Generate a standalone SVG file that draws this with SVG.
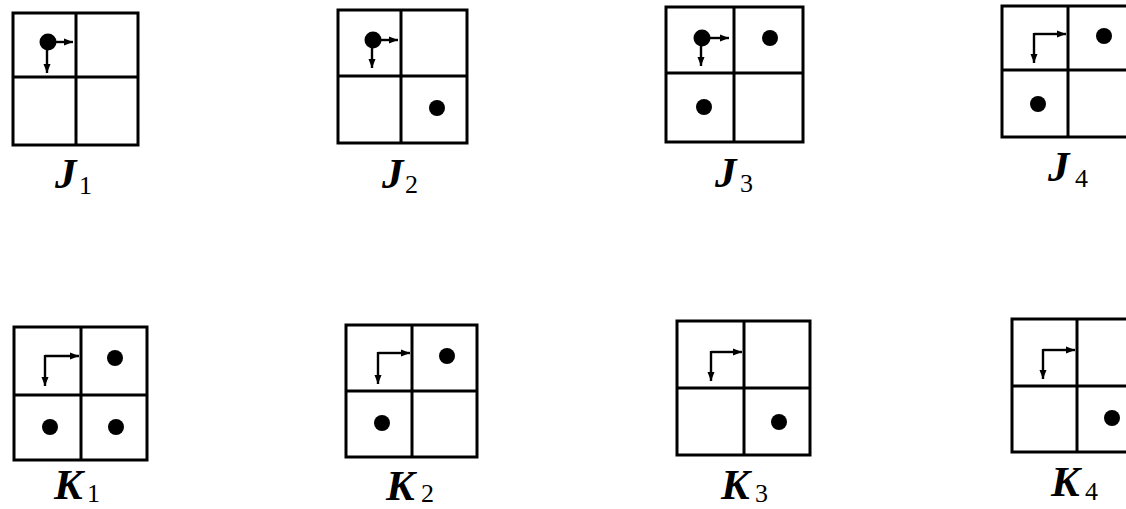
<svg xmlns="http://www.w3.org/2000/svg" width="1126" height="509" viewBox="0 0 1126 509">
<style>
.box{fill:none;stroke:#000;stroke-width:3}
.div{fill:none;stroke:#000;stroke-width:3}
.arr{fill:none;stroke:#000;stroke-width:2.4;marker-end:url(#ah)}
.dot{fill:#000}
.lab{font-family:"Liberation Serif","Times New Roman",serif;font-weight:bold;font-style:italic;font-size:43px;fill:#000}
.sub{font-style:normal;font-weight:normal;font-size:26px}
</style>
<defs>
<marker id="ah" markerUnits="userSpaceOnUse" markerWidth="10" markerHeight="10" refX="9" refY="5" orient="auto">
<path d="M0,1.5 L9,5 L0,8.5 Z" fill="#000"/>
</marker>
</defs>
<rect width="1126" height="509" fill="#fff"/>
<g id="J1">
<rect class="box" x="13" y="13" width="125" height="132"/>
<line class="div" x1="76" y1="13" x2="76" y2="145"/>
<line class="div" x1="13" y1="77" x2="138" y2="77"/>
<circle class="dot" cx="48" cy="42" r="8.5"/>
<text class="lab" x="55" y="188">J<tspan class="sub" x="79" y="194">1</tspan></text>
</g>
<g id="J2">
<rect class="box" x="338" y="10" width="129" height="133"/>
<line class="div" x1="401" y1="10" x2="401" y2="143"/>
<line class="div" x1="338" y1="76" x2="467" y2="76"/>
<circle class="dot" cx="373" cy="40" r="8.5"/>
<circle class="dot" cx="437" cy="108" r="8"/>
<text class="lab" x="382" y="188">J<tspan class="sub" x="405" y="193">2</tspan></text>
</g>
<g id="J3">
<rect class="box" x="666" y="7" width="137" height="135"/>
<line class="div" x1="734" y1="7" x2="734" y2="142"/>
<line class="div" x1="666" y1="73" x2="803" y2="73"/>
<circle class="dot" cx="702" cy="38" r="8.5"/>
<circle class="dot" cx="770" cy="38" r="8"/>
<circle class="dot" cx="704" cy="107" r="8"/>
<text class="lab" x="715" y="187">J<tspan class="sub" x="740" y="192">3</tspan></text>
</g>
<g id="J4">
<rect class="box" x="1002" y="6" width="133" height="131"/>
<line class="div" x1="1068" y1="6" x2="1068" y2="137"/>
<line class="div" x1="1002" y1="70" x2="1135" y2="70"/>
<circle class="dot" cx="1104" cy="36" r="8"/>
<circle class="dot" cx="1038" cy="104" r="8"/>
<text class="lab" x="1048" y="181">J<tspan class="sub" x="1075" y="187">4</tspan></text>
</g>
<g id="K1">
<rect class="box" x="14" y="327" width="133" height="133"/>
<line class="div" x1="81" y1="327" x2="81" y2="460"/>
<line class="div" x1="14" y1="395" x2="147" y2="395"/>
<circle class="dot" cx="115" cy="358" r="8"/>
<circle class="dot" cx="50" cy="427" r="8"/>
<circle class="dot" cx="116" cy="427" r="8"/>
<text class="lab" x="54" y="499">K<tspan class="sub" x="87" y="502">1</tspan></text>
</g>
<g id="K2">
<rect class="box" x="346" y="325" width="131" height="132"/>
<line class="div" x1="412" y1="325" x2="412" y2="457"/>
<line class="div" x1="346" y1="391" x2="477" y2="391"/>
<circle class="dot" cx="447" cy="356" r="8"/>
<circle class="dot" cx="382" cy="423" r="8"/>
<text class="lab" x="386" y="500">K<tspan class="sub" x="421" y="502">2</tspan></text>
</g>
<g id="K3">
<rect class="box" x="677" y="321" width="133" height="134"/>
<line class="div" x1="744" y1="321" x2="744" y2="455"/>
<line class="div" x1="677" y1="388" x2="810" y2="388"/>
<circle class="dot" cx="779" cy="422" r="8"/>
<text class="lab" x="721" y="499">K<tspan class="sub" x="755" y="502">3</tspan></text>
</g>
<g id="K4">
<rect class="box" x="1012" y="319" width="130" height="133"/>
<line class="div" x1="1077" y1="319" x2="1077" y2="452"/>
<line class="div" x1="1012" y1="386" x2="1142" y2="386"/>
<circle class="dot" cx="1112" cy="418" r="8"/>
<text class="lab" x="1051" y="496">K<tspan class="sub" x="1085" y="500">4</tspan></text>
</g>
<g id="connectors">
<line class="arr" x1="48" y1="42" x2="73" y2="42"/>
<line class="arr" x1="47" y1="42" x2="47" y2="73"/>
<line class="arr" x1="373" y1="40" x2="398" y2="40"/>
<line class="arr" x1="372" y1="40" x2="372" y2="68"/>
<line class="arr" x1="702" y1="38" x2="729" y2="38"/>
<line class="arr" x1="701" y1="38" x2="701" y2="66"/>
<path class="arr" d="M1034,34 L1066,34"/>
<path class="arr" d="M1034,33 L1034,63"/>
<path class="arr" d="M45,356 L79,356"/>
<path class="arr" d="M45,355 L45,386"/>
<path class="arr" d="M378,353 L410,353"/>
<path class="arr" d="M378,352 L378,384"/>
<path class="arr" d="M711,352 L742,352"/>
<path class="arr" d="M711,351 L711,381"/>
<path class="arr" d="M1043,350 L1075,350"/>
<path class="arr" d="M1043,349 L1043,379"/>
</g>
</svg>
